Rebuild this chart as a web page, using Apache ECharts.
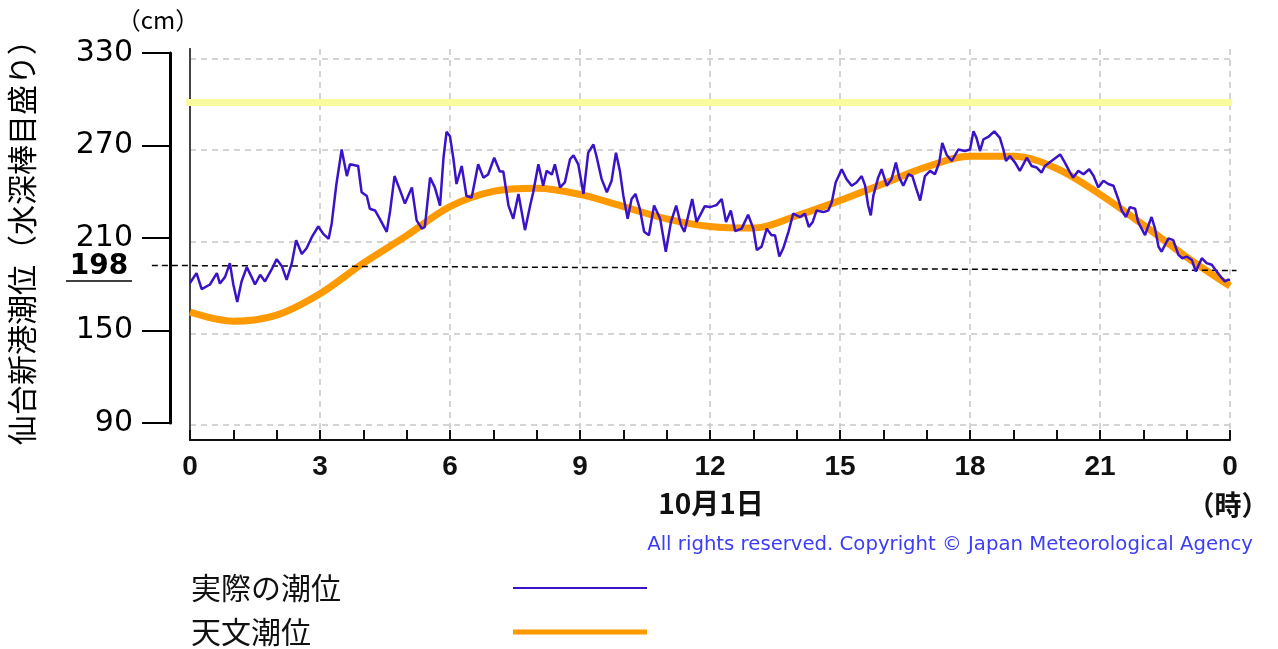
<!DOCTYPE html>
<html><head><meta charset="utf-8">
<script src="https://cdn.jsdelivr.net/npm/echarts@6/dist/echarts.min.js"></script>
<style>html,body{margin:0;padding:0;background:#fff}#c{width:1278px;height:649px}</style>
</head><body><div id="c"></div>
<script>
// ---- data ----
const observedHours = [0.00,0.15,0.27,0.46,0.62,0.69,0.81,0.92,1.00,1.09,1.19,1.31,1.42,1.50,1.62,1.73,1.88,2.00,2.12,2.23,2.35,2.45,2.58,2.69,2.81,2.96,3.08,3.20,3.27,3.38,3.50,3.62,3.69,3.88,3.96,4.08,4.15,4.27,4.38,4.54,4.62,4.72,4.85,4.96,5.12,5.23,5.35,5.42,5.54,5.65,5.77,5.85,5.92,
6.00,6.08,6.15,6.27,6.38,6.50,6.65,6.77,6.88,7.02,7.15,7.23,7.35,7.46,7.58,7.73,7.85,7.92,8.04,8.15,8.23,8.35,8.42,8.54,8.65,8.77,8.85,8.96,9.08,9.19,9.31,9.38,9.50,9.62,9.73,9.83,9.92,10.00,10.10,10.19,10.28,10.38,10.48,10.59,10.71,10.85,10.98,11.10,11.22,11.33,11.41,11.50,11.59,11.69,11.77,11.88,12.00,
12.15,12.27,12.37,12.48,12.58,12.73,12.88,13.00,13.08,13.19,13.31,13.42,13.50,13.60,13.69,13.81,13.92,14.08,14.19,14.28,14.37,14.46,14.62,14.73,14.81,14.90,15.04,15.15,15.27,15.38,15.50,15.58,15.65,15.71,15.77,15.88,15.96,16.08,16.19,16.29,16.37,16.46,16.58,16.67,16.75,16.85,16.96,17.08,17.19,17.29,17.36,17.46,17.58,17.73,17.88,18.00,
18.08,18.15,18.23,18.31,18.42,18.56,18.69,18.77,18.83,18.92,19.04,19.15,19.31,19.42,19.54,19.65,19.73,19.88,20.08,20.19,20.31,20.38,20.50,20.62,20.75,20.85,20.96,21.08,21.19,21.31,21.42,21.50,21.60,21.69,21.81,21.88,21.96,22.04,22.12,22.19,22.27,22.35,22.42,22.50,22.58,22.69,22.81,22.90,23.00,23.12,23.21,23.35,23.46,23.58,23.69,23.81,23.88,23.96,24.00];
const observedLevels = [183,189.5,179,182,189.5,182.6,187,196,182,170.5,184,193.4,187,182,188.4,184,191.7,198.6,194,185,196,211,202,205.7,213,220,215,212,222,248,270.4,253,260.7,259.6,242.4,240,231.6,230.5,225,216.5,230.5,253,243.5,235,245.6,224,218.6,219.7,252,245.6,233.7,265,282,
279,264,247.8,259.6,240,239,260.7,252,254,265,256,256,233.7,225,241.3,217.6,233.7,242.4,260.7,246.7,256.4,254,260.7,245.6,248.8,264,266.5,260.7,241.3,268.3,273.7,266,251,242.4,250,268.3,256.4,240.2,225,238,241.3,231.6,216.5,214.3,233.7,225,203.5,223,233.7,220.8,216.5,227.3,238,223,227.3,233.3,232.7,
234,238,223,230.5,217,218.6,227.7,218.6,204.6,206.8,218.6,214.3,214.3,200.3,205.7,216.5,228.4,226.2,228.4,219.7,223,230.5,229.4,230.5,235.9,248.8,257.5,251,246.7,248.8,253,246.7,233.7,227.3,240.2,252,257.5,246.7,251,261.8,252,246.7,254.2,253,245.6,237,253,256.4,254.2,261.8,274.7,267,262.9,270.4,269.4,270.4,
282.3,278,269.4,277,278.6,282.3,278,270.4,262.9,266.1,261.8,256.4,265,259.6,258.6,255.3,259.6,262.9,267.2,261.8,255.3,252,256.4,254.2,257.5,253.2,245.6,249.9,247.8,246.7,238,230.5,226.2,232.7,231.6,223,218.6,214.3,220.8,226.2,218.6,206.8,203.5,207.9,212.2,211.1,201.4,199.2,200.3,198.1,190.6,199.2,196,194.9,190.6,186.3,184.1,185.2,185];
const astroHours  = [0,1,2,3,4,5,6,7,8,9,10,11,12,13,14,15,16,17,18,19,20,21,22,23,24];
const astroLevels = [164,158,162,176,196,214,233,243,245,241,233,225,220,219,227,237,248,259,266,266,258,241,221,200,181];
const warnHours  = [-0.09, 24.05];
const warnLevels = [301.2, 301.2];
const refHours  = [-0.88, 24.15];
const refLevels = [194.5, 191.2];
const xTickLabels = ['0','3','6','9','12','15','18','21','0'];
const scaleTicks = [90,150,210,270,330];
const seriesNames = ['実際の潮位','天文潮位'];

const zip = (a, b) => a.map((v, i) => [v, b[i]]);
const JP = '"Noto Sans CJK JP", sans-serif';
const chart = echarts.init(document.getElementById('c'));

const Y_MIN = 80.2, Y_MAX = 336.2;
const hidX = (g, mn, mx) => ({gridIndex:g, type:'value', min:mn, max:mx, show:false});
const mkLegend = (name, top, h) => ({
  orient:'horizontal', left:186, top:top, align:'right', selectedMode:false,
  icon:'rect', itemWidth:134, itemHeight:h,
  data:[name],
  formatter: '{t|{name}}',
  textStyle:{color:'#111', fontFamily:JP, fontSize:30,
    rich:{t:{width:317, align:'left', fontSize:30, lineHeight:30, fontFamily:JP, color:'#111'}}}
});

chart.setOption({
  animation: false,
  backgroundColor: '#fff',
  grid: [
    {left:190, right:48, top:49, bottom:209},
    {left:190, right:48, top:58.5, bottom:224},
    {left:170, width:1, top:53, bottom:226},
    {left:152, right:41, top:49, bottom:209}
  ],
  xAxis: [
    {gridIndex:0, type:'value', min:0, max:24, interval:1, position:'bottom',
      axisLine:{show:true, onZero:false, lineStyle:{color:'#111', width:2}},
      axisTick:{show:true, inside:true, length:10, lineStyle:{color:'#111', width:2}},
      axisLabel:{show:true, margin:13, fontSize:28, fontWeight:'bold', fontFamily:'"Liberation Sans", sans-serif', color:'#111',
        formatter: v => (v % 3 === 0 ? xTickLabels[v/3] : '')},
      splitLine:{show:false}},
    {gridIndex:0, type:'value', min:0, max:24, interval:3, position:'top',
      axisLine:{show:false}, axisTick:{show:false}, axisLabel:{show:false},
      splitLine:{show:true, lineStyle:{color:'#c6c6c6', width:1.5, type:[6,5]}}},
    hidX(1, 0, 1), hidX(2, 0, 1),
    hidX(3, -38/43.333, 24 + 7/43.333)
  ],
  yAxis: [
    {gridIndex:0, type:'value', min:Y_MIN, max:Y_MAX, position:'left',
      axisLine:{show:true, lineStyle:{color:'#444', width:2}}, axisTick:{show:false}, axisLabel:{show:false}, splitLine:{show:false}},
    {gridIndex:0, type:'value', min:Y_MIN, max:Y_MAX, position:'right',
      axisLine:{show:true, lineStyle:{color:'#444', width:2}}, axisTick:{show:false}, axisLabel:{show:false}, splitLine:{show:false}},
    {gridIndex:1, type:'value', min:scaleTicks[0], max:scaleTicks[scaleTicks.length-1], interval:60,
      axisLine:{show:false}, axisTick:{show:false}, axisLabel:{show:false},
      splitLine:{show:true, lineStyle:{color:'#c6c6c6', width:1.5, type:[6,5]}}},
    {gridIndex:2, type:'value', min:scaleTicks[0], max:scaleTicks[scaleTicks.length-1], interval:60, position:'left',
      axisLine:{show:true, lineStyle:{color:'#000', width:3}},
      axisTick:{show:true, length:28, lineStyle:{color:'#000', width:2}},
      axisLabel:{show:true, margin:37, fontSize:30, fontFamily:'"DejaVu Sans", sans-serif', color:'#000'},
      splitLine:{show:false}},
    {gridIndex:3, type:'value', min:Y_MIN, max:Y_MAX, show:false}
  ],
  legend: [ mkLegend(seriesNames[0], 568, 2), mkLegend(seriesNames[1], 612, 5) ],
  series: [
    {type:'line', xAxisIndex:4, yAxisIndex:4, data:zip(warnHours, warnLevels), symbol:'none', silent:true, z:1,
      lineStyle:{color:'#fafa9e', width:7}},
    {type:'line', name:seriesNames[1], xAxisIndex:0, yAxisIndex:0, data:zip(astroHours, astroLevels), symbol:'none', smooth:0.35, z:2,
      lineStyle:{color:'#ff9900', width:7}, itemStyle:{color:'#ff9900'}},
    {type:'line', xAxisIndex:4, yAxisIndex:4, data:zip(refHours, refLevels), symbol:'none', silent:true, z:3,
      lineStyle:{color:'#000', width:1.5, type:[6,4]}},
    {type:'line', name:seriesNames[0], xAxisIndex:0, yAxisIndex:0, data:zip(observedHours, observedLevels), symbol:'none', z:4,
      lineStyle:{color:'#3a12c8', width:2.5}, itemStyle:{color:'#3a12c8'}}
  ],
  graphic: [
    {type:'text', x:22, y:235, rotation:Math.PI/2, z:10,
      style:{text:'仙台新港潮位（水深棒目盛り）', fontSize:30, fontFamily:JP, fill:'#000', align:'center', verticalAlign:'middle', textAlign:'center', textVerticalAlign:'middle'}},
    {type:'text', x:158, y:20, z:10,
      style:{text:'（cm）', fontSize:24, fontFamily:JP, fill:'#000', align:'center', verticalAlign:'middle', textAlign:'center', textVerticalAlign:'middle'}},
    {type:'text', x:99, y:267, z:10,
      style:{text:'198', fontSize:28, fontWeight:'bold', fontFamily:'"DejaVu Sans", sans-serif', fill:'#000', align:'center', verticalAlign:'middle', textAlign:'center', textVerticalAlign:'middle'}},
    {type:'line', z:10, shape:{x1:66, y1:281, x2:132, y2:281}, style:{stroke:'#000', lineWidth:1.5}},
    {type:'text', x:711, y:503, z:10,
      style:{text:'10月1日', fontSize:28, fontWeight:'bold', fontFamily:JP, fill:'#111', align:'center', verticalAlign:'middle', textAlign:'center', textVerticalAlign:'middle'}},
    {type:'text', x:1228, y:505, z:10,
      style:{text:'（時）', fontSize:27, fontWeight:'bold', fontFamily:JP, fill:'#111', align:'center', verticalAlign:'middle', textAlign:'center', textVerticalAlign:'middle'}},
    {type:'text', x:1253, y:545, z:10,
      style:{text:'All rights reserved. Copyright © Japan Meteorological Agency', fontSize:19.7, fontFamily:'"DejaVu Sans", sans-serif', fill:'#3d3df5', align:'right', verticalAlign:'middle', textAlign:'right', textVerticalAlign:'middle'}}
  ]
});
</script>
</body></html>
